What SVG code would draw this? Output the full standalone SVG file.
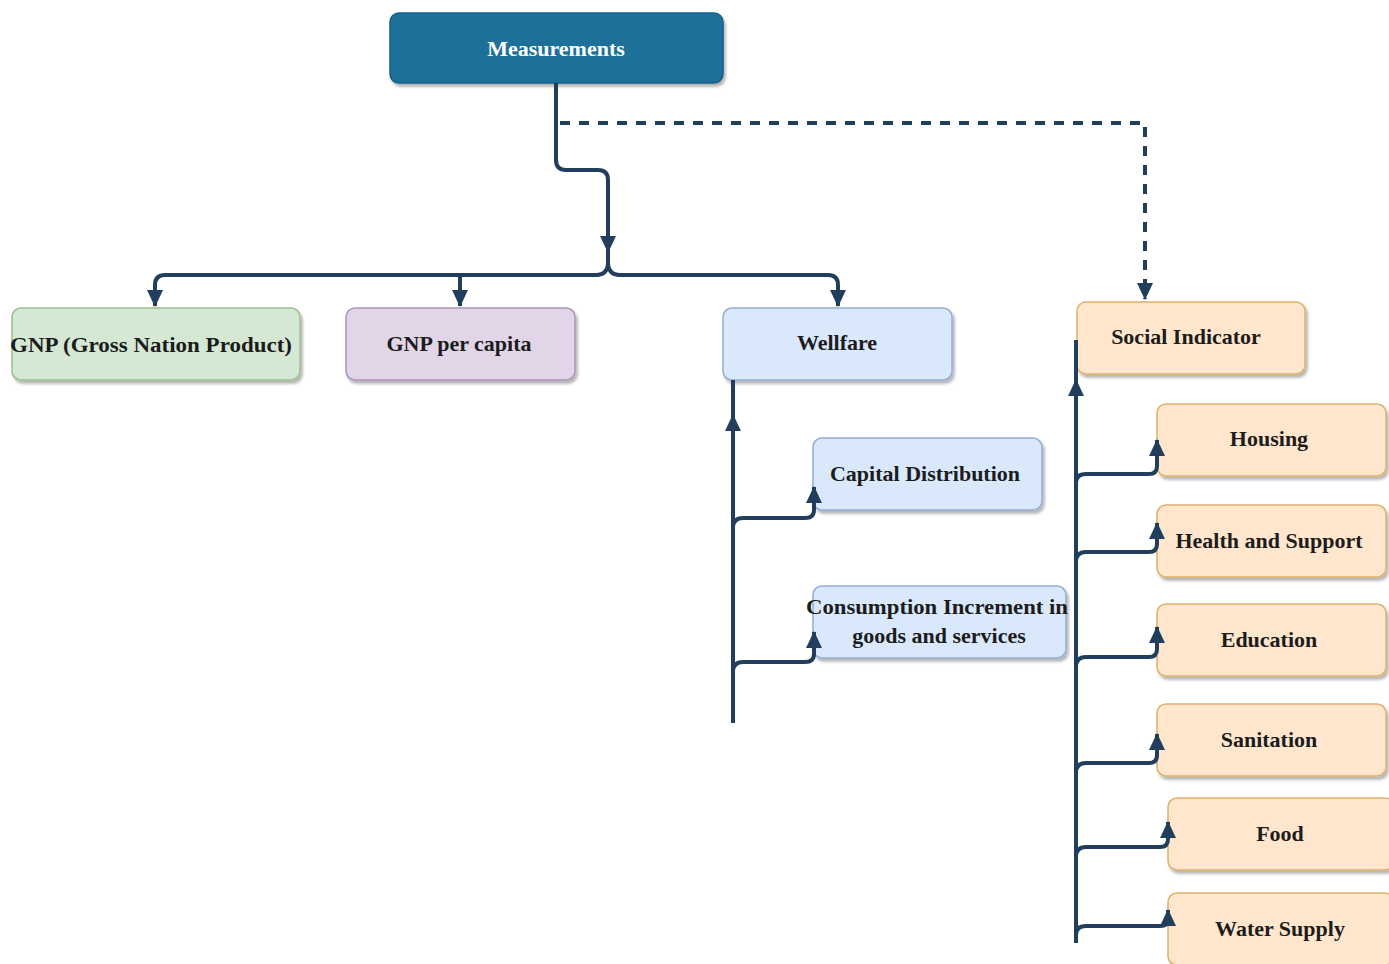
<svg xmlns="http://www.w3.org/2000/svg" width="1389" height="964" viewBox="0 0 1389 964">
<defs>
<filter id="sh" x="-10%" y="-10%" width="130%" height="140%">
<feDropShadow dx="2" dy="3" stdDeviation="1.5" flood-color="#000" flood-opacity="0.3"/>
</filter>
<marker id="ar" viewBox="0 0 17 16" refX="16" refY="8" markerWidth="17" markerHeight="16" markerUnits="userSpaceOnUse" orient="auto">
<path d="M0,0 L17,8 L0,16 Z" fill="#213f5c"/>
</marker>
<style>
.box{stroke-width:1.5;filter:url(#sh)}
.g{fill:#d5e8d4;stroke:#9bbf8e}
.p{fill:#e1d5e7;stroke:#ad94b8}
.b{fill:#dae8fc;stroke:#92acd2}
.o{fill:#ffe6cc;stroke:#deb16e}
.t{font-family:"Liberation Serif","Times New Roman",serif;font-weight:bold;font-size:22px;fill:#1c1c1c;text-anchor:middle}
.w{fill:#ffffff}
.c{fill:none;stroke:#213f5c;stroke-width:4}
.d{fill:none;stroke:#213f5c;stroke-width:4;stroke-dasharray:10 9}
</style>
</defs>
<rect width="1389" height="964" fill="#ffffff"/>
<g id="measurements">
<rect x="390" y="13" width="333" height="70" rx="9" fill="#1b6f99" stroke="#15618a" stroke-width="1.5" filter="url(#sh)"/>
<text class="t w" x="556" y="56" font-size="23">Measurements</text>
</g>
<g id="gnp">
<rect class="box g" x="12" y="308" width="288" height="72" rx="9"/>
<text class="t" x="151" y="352" textLength="282" lengthAdjust="spacingAndGlyphs">GNP (Gross Nation Product)</text>
</g>
<g id="gnp-per-capita">
<rect class="box p" x="346" y="308" width="229" height="72" rx="9"/>
<text class="t" x="459" y="351">GNP per capita</text>
</g>
<g id="wellfare">
<rect class="box b" x="723" y="308" width="229" height="72" rx="9"/>
<text class="t" x="837" y="350">Wellfare</text>
</g>
<g id="capital-distribution">
<rect class="box b" x="813" y="438" width="229" height="72" rx="9"/>
<text class="t" x="925" y="481">Capital Distribution</text>
</g>
<g id="consumption">
<rect class="box b" x="813" y="586" width="253" height="72" rx="9"/>
<text class="t" x="937" y="614" textLength="262" lengthAdjust="spacingAndGlyphs">Consumption Increment in</text>
<text class="t" x="939" y="643">goods and services</text>
</g>
<g id="social-indicator">
<rect class="box o" x="1077" y="302" width="228" height="72" rx="9"/>
<text class="t" x="1186" y="344">Social Indicator</text>
</g>
<g id="housing">
<rect class="box o" x="1157" y="404" width="229" height="72" rx="9"/>
<text class="t" x="1269" y="446">Housing</text>
</g>
<g id="health">
<rect class="box o" x="1157" y="505" width="229" height="72" rx="9"/>
<text class="t" x="1269" y="548">Health and Support</text>
</g>
<g id="education">
<rect class="box o" x="1157" y="604" width="229" height="72" rx="9"/>
<text class="t" x="1269" y="647">Education</text>
</g>
<g id="sanitation">
<rect class="box o" x="1157" y="704" width="229" height="72" rx="9"/>
<text class="t" x="1269" y="747">Sanitation</text>
</g>
<g id="food">
<rect class="box o" x="1168" y="798" width="226" height="72" rx="9"/>
<text class="t" x="1280" y="841">Food</text>
</g>
<g id="water-supply">
<rect class="box o" x="1168" y="893" width="226" height="72" rx="9"/>
<text class="t" x="1280" y="936">Water Supply</text>
</g>
<g id="connectors">
<path class="c" d="M556,83 V160 Q556,170 566,170 H598 Q608,170 608,180 V252" marker-end="url(#ar)"/>
<path class="c" d="M608,245 V262 Q608,275 596,275 H165 Q155,275 155,285 V306" marker-end="url(#ar)"/>
<path class="c" d="M460,275 V306" marker-end="url(#ar)"/>
<path class="c" d="M608,262 Q608,275 620,275 H828 Q838,275 838,285 V306" marker-end="url(#ar)"/>
<path class="d" d="M560,123 H1145 V299" marker-end="url(#ar)"/>
<path class="c" d="M733,723 V380"/>
<path class="c" d="M733,440 V415" marker-end="url(#ar)"/>
<path class="c" d="M733,528 Q733,518 743,518 H805 Q814,518 814,510 V487" marker-end="url(#ar)"/>
<path class="c" d="M733,672 Q733,662 743,662 H805 Q814,662 814,654 V632" marker-end="url(#ar)"/>
<path class="c" d="M1076,943 V340"/>
<path class="c" d="M1076,410 V380" marker-end="url(#ar)"/>
<path class="c" d="M1076,483 Q1076,474 1086,474 H1149 Q1157,474 1157,466 V440" marker-end="url(#ar)"/>
<path class="c" d="M1076,562 Q1076,552 1086,552 H1149 Q1157,552 1157,544 V523" marker-end="url(#ar)"/>
<path class="c" d="M1076,667 Q1076,657 1086,657 H1149 Q1157,657 1157,649 V627" marker-end="url(#ar)"/>
<path class="c" d="M1076,773 Q1076,763 1086,763 H1149 Q1157,763 1157,755 V734" marker-end="url(#ar)"/>
<path class="c" d="M1076,857 Q1076,847 1086,847 H1160 Q1168,847 1168,839 V822" marker-end="url(#ar)"/>
<path class="c" d="M1076,935 Q1076,926 1086,926 H1160 Q1168,926 1168,920 V910" marker-end="url(#ar)"/>
</g>
</svg>
